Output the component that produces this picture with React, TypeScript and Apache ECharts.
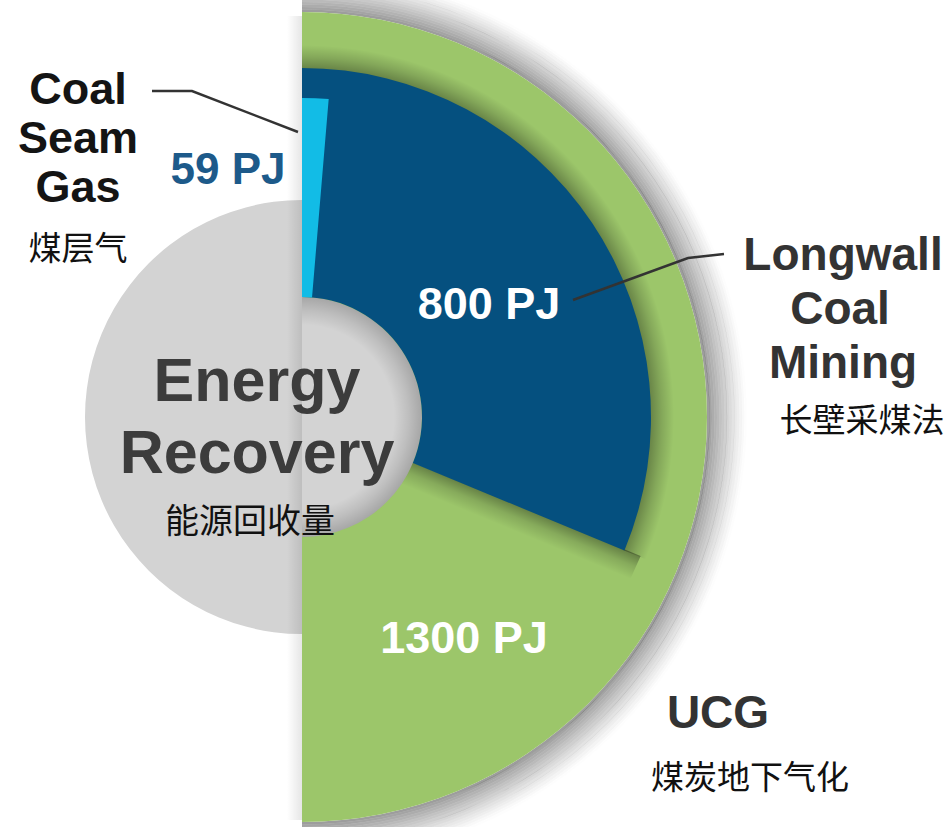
import React, { useEffect, useRef } from "react";
import * as echarts from "echarts";

// ---- data ----
const categories = ["Coal Seam Gas", "Longwall Coal Mining", "UCG"];
const categoriesZh = ["煤层气", "长壁采煤法", "煤炭地下气化"];
const valuesPJ = [59, 800, 1300];
// sweep of each sector as drawn in the reference (degrees, clockwise from top)
const drawnSweepDeg = [4.8, 112.5, 180];
const centerTitle = ["Energy", "Recovery"];
const centerTitleZh = "能源回收量";
const unit = "PJ";

// ---- layout / style ----
const W = 952;
const H = 827;
const CX = 302;
const CY = 417;
const colors = ["#12BCE6", "#05507F", "#9CC66A"];
const outerR = [319, 349, 405];
const innerR = 120;
const grayR = 217;
const EN_FONT = "'Liberation Sans', Arial, sans-serif";
const ZH_FONT = "'Noto Sans CJK SC', sans-serif";

const clear = "rgba(0,0,0,0)";

function radialShade(r0: number, r1: number, inward: boolean, alpha: number) {
  const R = Math.max(r0, r1);
  const a = r0 / R;
  const b = r1 / R;
  const dark = `rgba(0,0,0,${alpha})`;
  const mid = `rgba(0,0,0,${alpha * 0.45})`;
  return {
    type: "radial",
    x: CX,
    y: CY,
    r: R,
    global: true,
    colorStops: inward
      ? [
          { offset: b, color: clear },
          { offset: (a + b) / 2, color: mid },
          { offset: a, color: dark },
        ]
      : [
          { offset: a, color: dark },
          { offset: (a + b) / 2, color: mid },
          { offset: b, color: clear },
        ],
  };
}

// decorative shadow sector drawn by the graphic component (angles in degrees, clockwise from top)
function shadeSector(r0: number, r1: number, fromDeg: number, toDeg: number, fill: any, z: number) {
  return {
    type: "sector",
    z,
    silent: true,
    shape: {
      cx: CX,
      cy: CY,
      r0,
      r: r1,
      startAngle: ((fromDeg - 90) * Math.PI) / 180,
      endAngle: ((toDeg - 90) * Math.PI) / 180,
      clockwise: true,
    },
    style: { fill },
  };
}

// halo made of thin solid rings with decreasing opacity
function haloRings(r0: number, width: number, steps: number, alpha: number, fromDeg: number, toDeg: number, z: number) {
  const out: any[] = [];
  const step = width / steps;
  for (let i = 0; i < steps; i++) {
    const t = (i + 0.5) / steps;
    const a = alpha * Math.pow(1 - t, 1.2);
    out.push(shadeSector(r0 + i * step, r0 + (i + 1) * step, fromDeg, toDeg, `rgba(0,0,0,${a.toFixed(3)})`, z));
  }
  return out;
}

export default function App() {
  const ref = useRef<HTMLDivElement>(null);

  useEffect(() => {
    document.body.style.margin = "0";
    if (!ref.current) return;
    const chart = echarts.init(ref.current, undefined, { renderer: "svg" });

    const sectorSeries = [2, 1, 0].map((i, k) => {
      const v = valuesPJ[i];
      const filler = v * (360 / drawnSweepDeg[i] - 1);
      return {
        type: "pie",
        name: categories[i],
        center: [CX, CY],
        radius: [innerR, outerR[i]],
        startAngle: 90,
        clockwise: true,
        silent: true,
        z: 3 + k,
        label: { show: false },
        labelLine: { show: false },
        emphasis: { disabled: true },
        data: [
          { name: categories[i], value: v, itemStyle: { color: colors[i] } },
          { name: "rest", value: filler, itemStyle: { color: clear } },
        ],
      };
    });

    const blueEnd = drawnSweepDeg[1];
    const th = (blueEnd * Math.PI) / 180;
    const perp = [Math.cos(th), Math.sin(th)]; // direction of increasing angle
    const edgeShadow = {
      type: "linear",
      x: CX,
      y: CY,
      x2: CX + perp[0] * 24,
      y2: CY + perp[1] * 24,
      global: true,
      colorStops: [
        { offset: 0, color: "rgba(0,0,0,0.34)" },
        { offset: 0.45, color: "rgba(0,0,0,0.14)" },
        { offset: 1, color: clear },
      ],
    };

    const text = (
      t: string,
      x: number,
      y: number,
      size: number,
      fill: string,
      bold = true,
      zh = false
    ) => ({
      type: "text",
      x,
      y,
      z: 100,
      silent: true,
      style: {
        text: t,
        align: "center",
        verticalAlign: "middle",
        fill,
        font: `${bold ? "bold " : ""}${size}px ${zh ? ZH_FONT : EN_FONT}`,
      },
    });

    const graphics: any[] = [
      // halo outside the green half ring
      ...haloRings(405, 40, 16, 0.4, 0, 180, 2),
      // inner hole shading
      shadeSector(92, 121, 0, 180, radialShade(121, 92, true, 0.22), 2),
      // blue outer arc onto green
      shadeSector(348, 372, 0, blueEnd, radialShade(348, 372, false, 0.34), 3.5),
      // blue lower edge onto green
      shadeSector(innerR, 366, blueEnd - 0.2, blueEnd + 14, edgeShadow, 3.5),
      // shadow along the straight left edge of the half ring
      {
        type: "rect",
        z: 2,
        silent: true,
        shape: { x: 287, y: 16, width: 15, height: 804 },
        style: {
          fill: {
            type: "linear",
            x: 0,
            y: 0,
            x2: 1,
            y2: 0,
            colorStops: [
              { offset: 0, color: clear },
              { offset: 1, color: "rgba(0,0,0,0.1)" },
            ],
          },
        },
      },
      // Coal Seam Gas
      text("Coal", 78, 88, 45, "#141414"),
      text("Seam", 78, 137, 45, "#141414"),
      text("Gas", 78, 186, 45, "#141414"),
      text(categoriesZh[0], 78, 246, 33, "#111", false, true),
      text(`${valuesPJ[0]} ${unit}`, 228, 168, 44, "#1D5A8A"),
      // Longwall
      text("Longwall", 843, 254, 46, "#333333"),
      text("Coal", 840, 308, 46, "#333333"),
      text("Mining", 843, 362, 46, "#333333"),
      text(categoriesZh[1], 862, 418, 33, "#111", false, true),
      text(`${valuesPJ[1]} ${unit}`, 489, 303, 45, "#FFFFFF"),
      // UCG
      text(categories[2], 718, 712, 46, "#333333"),
      text(categoriesZh[2], 750, 775, 33, "#111", false, true),
      text(`${valuesPJ[2]} ${unit}`, 464, 637, 45, "#FFFFFF"),
      // centre
      text(centerTitle[0], 257, 380, 61, "#3C3C3C"),
      text(centerTitle[1], 257, 452, 61, "#3C3C3C"),
      text(centerTitleZh, 250, 518, 34, "#111", false, true),
      // leader lines
      {
        type: "polyline",
        z: 90,
        silent: true,
        shape: { points: [[152, 91], [192, 91], [298, 132]] },
        style: { stroke: "#333", lineWidth: 2.5, fill: "none" },
      },
      {
        type: "polyline",
        z: 90,
        silent: true,
        shape: { points: [[573, 300], [688, 258], [724, 254]] },
        style: { stroke: "#333", lineWidth: 2.5, fill: "none" },
      },
    ];

    chart.setOption({
      animation: false,
      backgroundColor: "#FFFFFF",
      series: [
        {
          type: "pie",
          name: "base",
          center: [CX, CY],
          radius: [0, grayR],
          silent: true,
          z: 1,
          label: { show: false },
          labelLine: { show: false },
          emphasis: { disabled: true },
          data: [{ name: centerTitle.join(" "), value: 1, itemStyle: { color: "#D3D3D3" } }],
        },
        ...sectorSeries,
      ],
      graphic: graphics,
    });

    return () => chart.dispose();
  }, []);

  return <div ref={ref} style={{ width: W, height: H }} />;
}
